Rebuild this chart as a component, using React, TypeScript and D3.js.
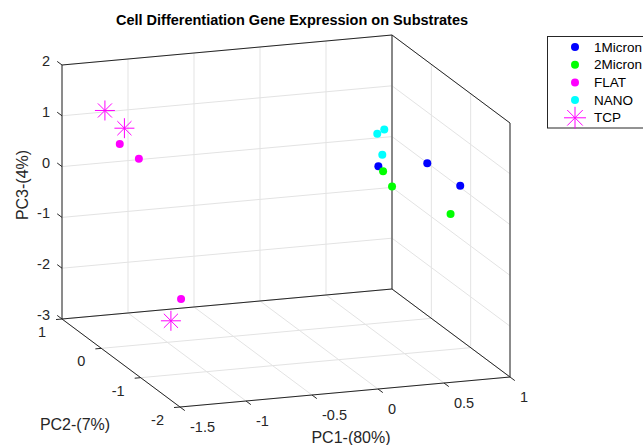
import React from 'react';
import * as d3 from 'd3';

const TITLE = 'Cell Differentiation Gene Expression on Substrates';
const PC1_TICKS = [-1.5, -1, -0.5, 0, 0.5, 1];
const PC2_TICKS = [-2, -1, 0, 1];
const PC3_TICKS = [-3, -2, -1, 0, 1, 2];
const PC1_LABELS = ['-1.5', '-1', '-0.5', '0', '0.5', '1'];
const PC2_LABELS = ['-2', '-1', '0', '1'];
const PC3_LABELS = ['-3', '-2', '-1', '0', '1', '2'];

const SERIES_NAMES = ['1Micron', '2Micron', 'FLAT', 'NANO', 'TCP'];
const SERIES_COLORS = ['#0000ff', '#00ff00', '#ff00ff', '#00ffff', '#ff00ff'];
const SERIES_MARKERS = ['dot', 'dot', 'dot', 'dot', 'star'];

const micron1PC1 = [0.7, 0.85, 0.9];
const micron1PC2 = [0.34, -0.4, -1.07];
const micron1PC3 = [-0.13, 0.32, 0.25];

const micron2PC1 = [0.7, 0.75, 0.8];
const micron2PC2 = [0.22, 0.16, -1.16];
const micron2PC3 = [-0.16, -0.44, -0.23];

const flatPC1 = [-1.25, -1.15, -1.2];
const flatPC2 = [0.37, 0.22, -1.02];
const flatPC3 = [0.75, 0.52, -1.51];

const nanoPC1 = [0.65, 0.7, 0.7];
const nanoPC2 = [0.2, 0.19, 0.24];
const nanoPC3 = [0.6, 0.68, 0.15];

const tcpPC1 = [-1.3, -1.2, -1.25];
const tcpPC2 = [0.58, 0.42, -0.93];
const tcpPC3 = [1.3, 1.02, -1.98];

const SERIES_PC1 = [micron1PC1, micron2PC1, flatPC1, nanoPC1, tcpPC1];
const SERIES_PC2 = [micron1PC2, micron2PC2, flatPC2, nanoPC2, tcpPC2];
const SERIES_PC3 = [micron1PC3, micron2PC3, flatPC3, nanoPC3, tcpPC3];

const W = 643;
const H = 445;
const FONT = '"Liberation Sans", Arial, Helvetica, sans-serif';
const AX = '#262626';
const GRID = '#e3e3e3';

// projection basis
const O = [180, 407];
const VX = [330, -30];
const VY = [-118, -88];
const VZ = [0, -254];

const sx = d3.scaleLinear().domain([-1.5, 1]).range([0, 1]);
const sy = d3.scaleLinear().domain([-2, 1]).range([0, 1]);
const sz = d3.scaleLinear().domain([-3, 2]).range([0, 1]);

function proj(x: number, y: number, z: number): [number, number] {
  const fx = sx(x), fy = sy(y), fz = sz(z);
  return [
    O[0] + fx * VX[0] + fy * VY[0] + fz * VZ[0],
    O[1] + fx * VX[1] + fy * VY[1] + fz * VZ[1],
  ];
}

const [x0, x1] = sx.domain();
const [y0, y1] = sy.domain();
const [z0, z1] = sz.domain();

function Seg({ a, b, color, w = 1 }: { a: [number, number]; b: [number, number]; color: string; w?: number }) {
  return <line x1={a[0]} y1={a[1]} x2={b[0]} y2={b[1]} stroke={color} strokeWidth={w} />;
}

function Star({ cx, cy, r, color }: { cx: number; cy: number; r: number; color: string }) {
  const d = r * Math.SQRT1_2;
  return (
    <g stroke={color} strokeWidth={1}>
      <line x1={cx - r} y1={cy} x2={cx + r} y2={cy} />
      <line x1={cx} y1={cy - r} x2={cx} y2={cy + r} />
      <line x1={cx - d} y1={cy - d} x2={cx + d} y2={cy + d} />
      <line x1={cx - d} y1={cy + d} x2={cx + d} y2={cy - d} />
    </g>
  );
}

export default function App() {
  const grid: JSX.Element[] = [];
  // back wall (y = y1)
  PC1_TICKS.forEach((t, i) => grid.push(<Seg key={'bx' + i} a={proj(t, y1, z0)} b={proj(t, y1, z1)} color={GRID} />));
  PC3_TICKS.forEach((t, i) => grid.push(<Seg key={'bz' + i} a={proj(x0, y1, t)} b={proj(x1, y1, t)} color={GRID} />));
  // right wall (x = x1)
  PC2_TICKS.forEach((t, i) => grid.push(<Seg key={'ry' + i} a={proj(x1, t, z0)} b={proj(x1, t, z1)} color={GRID} />));
  PC3_TICKS.forEach((t, i) => grid.push(<Seg key={'rz' + i} a={proj(x1, y0, t)} b={proj(x1, y1, t)} color={GRID} />));
  // floor (z = z0)
  PC1_TICKS.forEach((t, i) => grid.push(<Seg key={'fx' + i} a={proj(t, y0, z0)} b={proj(t, y1, z0)} color={GRID} />));
  PC2_TICKS.forEach((t, i) => grid.push(<Seg key={'fy' + i} a={proj(x0, t, z0)} b={proj(x1, t, z0)} color={GRID} />));

  const edges: [[number, number], [number, number]][] = [
    [proj(x0, y1, z1), proj(x1, y1, z1)],
    [proj(x1, y1, z1), proj(x1, y0, z1)],
    [proj(x0, y1, z0), proj(x0, y1, z1)],
    [proj(x1, y1, z0), proj(x1, y1, z1)],
    [proj(x1, y0, z0), proj(x1, y0, z1)],
    [proj(x0, y1, z0), proj(x1, y1, z0)],
    [proj(x1, y1, z0), proj(x1, y0, z0)],
    [proj(x0, y0, z0), proj(x1, y0, z0)],
    [proj(x0, y1, z0), proj(x0, y0, z0)],
  ];

  const tickLen = 6;
  const ex = [VX[0], VX[1]];
  const exn = Math.hypot(ex[0], ex[1]);
  const eyn = Math.hypot(VY[0], VY[1]);

  return (
    <svg width={W} height={H} style={{ position: 'absolute', left: 0, top: 0, background: '#fff' }} fontFamily={FONT}>
      <rect x={0} y={0} width={W} height={H} fill="#fff" />
      {grid}
      {edges.map((e, i) => <Seg key={'e' + i} a={e[0]} b={e[1]} color={AX} />)}

      {/* PC3 ticks (left vertical axis) */}
      {PC3_TICKS.map((t, i) => {
        const p = proj(x0, y1, t);
        const q: [number, number] = [p[0] + (VY[0] / eyn) * tickLen, p[1] + (VY[1] / eyn) * tickLen];
        return (
          <g key={'zt' + i}>
            <Seg a={p} b={q} color={AX} />
            <text x={p[0] - 12} y={p[1] - 4} textAnchor="end" dominantBaseline="central" fontSize={14.5} fill={AX}>{PC3_LABELS[i]}</text>
          </g>
        );
      })}

      {/* PC2 ticks (left floor edge) */}
      {PC2_TICKS.map((t, i) => {
        const p = proj(x0, t, z0);
        const q: [number, number] = [p[0] - (ex[0] / exn) * tickLen, p[1] - (ex[1] / exn) * tickLen];
        return (
          <g key={'yt' + i}>
            <Seg a={p} b={q} color={AX} />
            <text x={p[0] - 16} y={p[1] + 13} textAnchor="end" dominantBaseline="central" fontSize={14.5} fill={AX}>{PC2_LABELS[i]}</text>
          </g>
        );
      })}

      {/* PC1 ticks (front floor edge) */}
      {PC1_TICKS.map((t, i) => {
        const p = proj(t, y0, z0);
        const q: [number, number] = [p[0] - (VY[0] / eyn) * tickLen, p[1] - (VY[1] / eyn) * tickLen];
        return (
          <g key={'xt' + i}>
            <Seg a={p} b={q} color={AX} />
            <text x={p[0] + 10} y={p[1] + 20} textAnchor="start" dominantBaseline="central" fontSize={14.5} fill={AX}>{PC1_LABELS[i]}</text>
          </g>
        );
      })}

      {/* data */}
      {SERIES_NAMES.map((name, s) => (
        <g key={name}>
          {SERIES_PC1[s].map((v, i) => {
            const [px, py] = proj(v, SERIES_PC2[s][i], SERIES_PC3[s][i]);
            return SERIES_MARKERS[s] === 'dot'
              ? <circle key={i} cx={px} cy={py} r={4} fill={SERIES_COLORS[s]} />
              : <Star key={i} cx={px} cy={py} r={10} color={SERIES_COLORS[s]} />;
          })}
        </g>
      ))}

      {/* title and axis labels */}
      <text x={292} y={20} textAnchor="middle" dominantBaseline="central" fontSize={14.5} fontWeight="bold" fill="#000">{TITLE}</text>
      <text transform="translate(22,185) rotate(-90)" textAnchor="middle" dominantBaseline="central" fontSize={16} fill={AX}>PC3-(4%)</text>
      <text x={75} y={424} textAnchor="middle" dominantBaseline="central" fontSize={16} fill={AX}>PC2-(7%)</text>
      <text x={351} y={437} textAnchor="middle" dominantBaseline="central" fontSize={16} fill={AX}>PC1-(80%)</text>

      {/* legend */}
      <rect x={547.5} y={36.5} width={110} height={91.5} fill="#fff" stroke={AX} strokeWidth={1} />
      {SERIES_NAMES.map((name, s) => {
        const ly = 47 + s * 17.7;
        return (
          <g key={'lg' + s}>
            {SERIES_MARKERS[s] === 'dot'
              ? <circle cx={575} cy={ly} r={4} fill={SERIES_COLORS[s]} />
              : <Star cx={575} cy={ly} r={11} color={SERIES_COLORS[s]} />}
            <text x={594} y={ly} dominantBaseline="central" fontSize={13.5} fill="#000">{name}</text>
          </g>
        );
      })}
    </svg>
  );
}
